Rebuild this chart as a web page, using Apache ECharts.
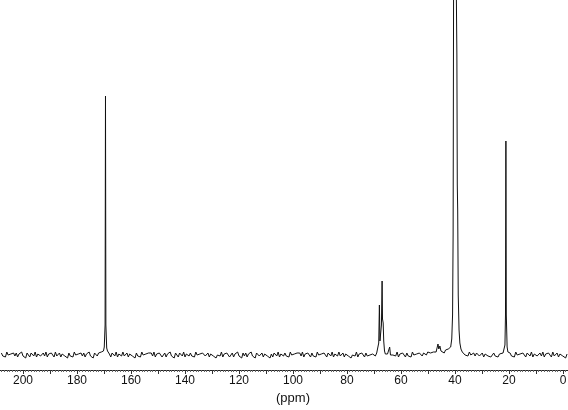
<!DOCTYPE html>
<html>
<head>
<meta charset="utf-8">
<script src="https://cdn.jsdelivr.net/npm/echarts@6/dist/echarts.min.js"></script>
<style>
  html, body { margin: 0; padding: 0; background: #fff; }
  #chart { width: 568px; height: 410px; }
</style>
</head>
<body>
<div id="chart"></div>
<script>
  // 13C spectrum, intensity in arbitrary units (baseline = 0)
  // baseline stretches: readings spread evenly between the two shifts (ppm)
  const baseHigh = { from: 208, to: 171, values: [
    2, -1, 1, -2, 3, 0, -2, 1, -1, 2,
    -1, 2, -2, 1, 0, 3, -1, 1, -3, 2,
    1, -2, 2, 0, -1, 3, -2, 1, 2, -1,
    0, 2, -1, 3, -2, 1, -1, 2, 0, -2,
    3, -1, 0, 2, -2, 1, 2, -1, 1, -3,
    2, -1, 1, -2, 3, 0, -2, 1, -1, 2,
    -1, 2, -2, 1, 0, 3, -1, 1, -3, 2,
    1, -1, 2, 0, 3] }
  const baseMid = { from: 168, to: 70, values: [
    1, -2, 2, 0, -1, 3, -2, 1, 2, -1,
    3, -1, 0, 2, -2, 1, 2, -1, 1, -3,
    2, -1, 1, -2, 3, 0, -2, 1, -1, 2,
    0, 2, -1, 3, -2, 1, -1, 2, 0, -2,
    -1, 2, -2, 1, 0, 3, -1, 1, -3, 2,
    1, -2, 2, 0, -1, 3, -2, 1, 2, -1,
    2, -1, 1, -2, 3, 0, -2, 1, -1, 2,
    3, -1, 0, 2, -2, 1, 2, -1, 1, -3,
    0, 2, -1, 3, -2, 1, -1, 2, 0, -2,
    -1, 2, -2, 1, 0, 3, -1, 1, -3, 2,
    -1, 2, -2, 1, 0, 3, -1, 1, -3, 2,
    3, -1, 0, 2, -2, 1, 2, -1, 1, -3,
    1, -2, 2, 0, -1, 3, -2, 1, 2, -1,
    2, -1, 1, -2, 3, 0, -2, 1, -1, 2,
    0, 2, -1, 3, -2, 1, -1, 2, 0, -2,
    2, -1, 1, -2, 3, 0, -2, 1, -1, 2,
    1, -2, 2, 0, -1, 3, -2, 1, 2, -1,
    3, -1, 0, 2, -2, 1, 2, -1, 1, -3,
    0, 2, -1, 3, -2, 1, -1, 2, 0, -2,
    2, -1, 1, 0, -2, 1, 0] }
  const baseLow = { from: 63, to: 47.5, values: [
    0, 2, -1, 3, -2, 1, -1, 2, 0, -2,
    2, -1, 1, -2, 3, 0, -2, 1, -1, 2,
    1, -1, 2, 1, 0, 3, 1, 2, 0, 3, 2] }
  const baseTail = { from: 36.8, to: 23, values: [
    3, 0, 2, -1, 3, 0, 1, 2, -1, 2,
    3, -1, 0, 2, -2, 1, 2, -1, 1, -2,
    0, 2, -1, 1, -2, 1, 2] }
  const baseEnd = { from: 19.6, to: -1.5, values: [
    2, -1, 1, -2, 3, 0, -2, 1, -1, 2,
    1, -2, 2, 0, -1, 3, -2, 1, 2, -1,
    0, 2, -1, 3, -2, 1, -1, 2, 0, -2,
    3, -1, 0, 2, -2, 1, 2, -1, 1, -3,
    1] }

  // peaks: [ppm, intensity]
  const carbonylPeak = [
    [170.6, 2], [170.2, 4], [169.9, 8], [169.6, 30], [169.45, 259],
    [169.3, 30], [169.0, 7], [168.7, 4], [168.3, 3]
  ]
  const ocPeaks = [
    [69.5, -1], [69.0, 2], [68.5, 4], [68.25, 12], [68.0, 50], [67.8, 14],
    [67.5, 12], [67.25, 30], [67.0, 74], [66.85, 36], [66.6, 32], [66.4, 14],
    [66.1, 4], [65.8, 1], [65.4, -1], [65.0, 1], [64.5, 0], [64.2, 8], [63.9, 0]
  ]
  const solventPeak = [
    [47.0, 3], [46.6, 5], [46.3, 11], [46.0, 6], [45.6, 9], [45.2, 4],
    [44.8, 2], [44.5, 5], [44.0, 2], [43.5, 5], [43.0, 3], [42.5, 6],
    [42.0, 5], [41.6, 8], [41.2, 16], [40.9, 40], [40.7, 120], [40.5, 400],
    [40.3, 600], [39.6, 600], [39.3, 300], [39.15, 170], [39.0, 145],
    [38.8, 60], [38.5, 25], [38.2, 12], [37.8, 6], [37.3, 3]
  ]
  const methylPeak = [
    [22.2, 2], [21.8, 4], [21.5, 10], [21.3, 40], [21.15, 214],
    [21.0, 40], [20.7, 8], [20.4, 3], [20.0, 1]
  ]

  const xLabels = [200, 180, 160, 140, 120, 100, 80, 60, 40, 20, 0]

  const stretch = (seg) => {
    const step = (seg.from - seg.to) / (seg.values.length - 1)
    return seg.values.map((v, i) => [seg.from - i * step, v])
  }

  const spectrum = [
    ...stretch(baseHigh),
    ...carbonylPeak,
    ...stretch(baseMid),
    ...ocPeaks,
    ...stretch(baseLow),
    ...solventPeak,
    ...stretch(baseTail),
    ...methylPeak,
    ...stretch(baseEnd),
  ]

  const chart = echarts.init(document.getElementById('chart'))

  chart.setOption({
    animation: false,
    grid: {
      left: -4,
      right: -22,
      top: 0,
      bottom: 40,
      containLabel: false,
      outerBoundsMode: 'none',
    },
    xAxis: {
      type: 'value',
      inverse: true,
      min: -10,
      max: 210,
      interval: 10,
      name: '(ppm)',
      nameLocation: 'middle',
      nameGap: 20,
      nameTextStyle: {
        color: '#111',
        fontSize: 13,
        fontFamily: 'Liberation Sans',
      },
      axisLine: {
        onZero: false,
        lineStyle: { color: '#222', width: 1 },
      },
      axisTick: {
        length: 4,
        lineStyle: { color: '#333' },
      },
      minorTick: {
        show: true,
        splitNumber: 10,
        length: 2,
        lineStyle: { color: '#666' },
      },
      splitLine: { show: false },
      axisLabel: {
        margin: 5,
        color: '#111',
        fontSize: 12,
        fontFamily: 'Liberation Sans',
        formatter: (v) => (xLabels.includes(v) ? String(v) : ''),
      },
    },
    yAxis: {
      type: 'value',
      show: false,
      min: -15,
      max: 355,
    },
    series: [
      {
        type: 'line',
        data: spectrum,
        symbol: 'none',
        clip: true,
        lineStyle: { color: '#111', width: 1 },
      },
    ],
  })
</script>
</body>
</html>
